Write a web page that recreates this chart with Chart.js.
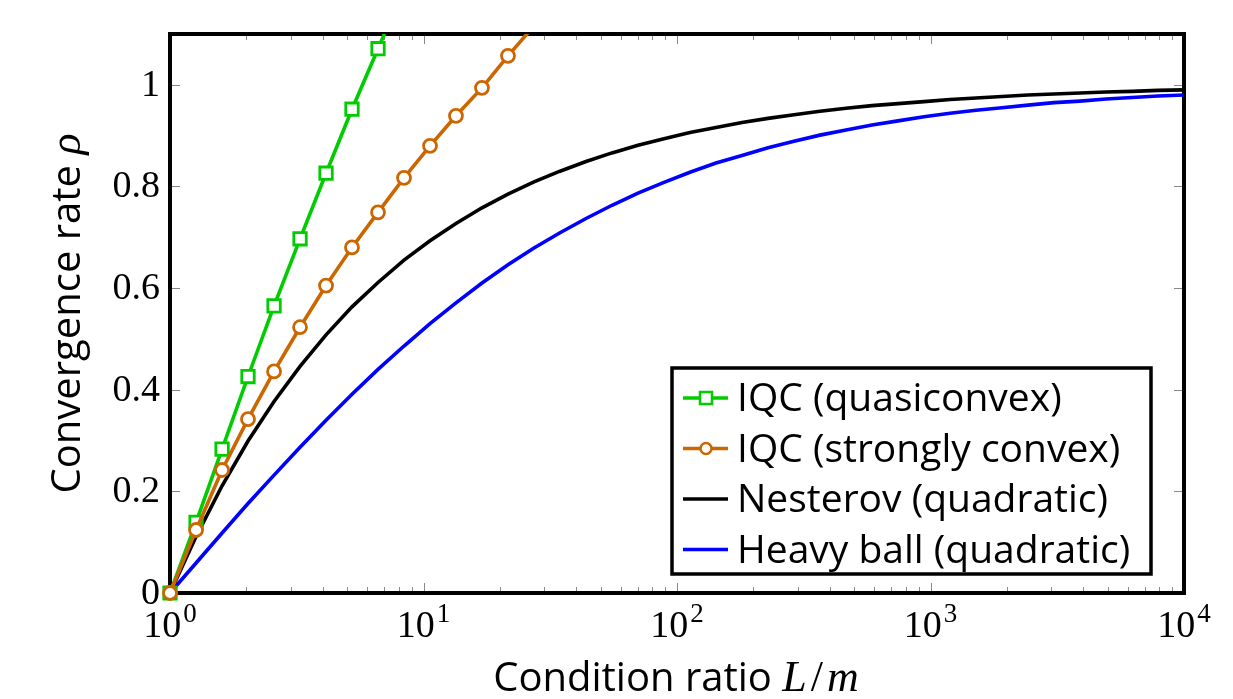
<!DOCTYPE html>
<html>
<head>
<meta charset="utf-8">
<script src="https://cdn.jsdelivr.net/npm/chart.js@4.4.0/dist/chart.umd.min.js"></script>
<style>
  html, body { margin: 0; padding: 0; background: #fff; }
  #wrap { width: 1233px; height: 699px; }
</style>
</head>
<body>
<div id="wrap"><canvas id="rate-chart"></canvas></div>
<script>
// condition ratio L/m samples (log spaced)
const conditionRatio = [
  1, 1.267, 1.605, 2.031, 2.573, 3.258, 4.126, 5.223, 6.616, 8.377,
  10.61, 13.43, 17.01, 21.54, 27.28, 34.55, 43.76, 55.41, 70.17, 88.86,
  112.5, 142.5, 180.5, 228.6, 289.4, 366.5, 464.2, 587.8, 744.4, 942.7,
  1194, 1512, 1915, 2424, 3070, 3888, 4924, 6236, 7897, 10000
];

const quasiconvexRate = [0, 0.139, 0.283, 0.426, 0.565, 0.697, 0.826, 0.952, 1.071, 1.19];
const stronglyConvexRate = [0, 0.124, 0.242, 0.342, 0.436, 0.523, 0.605, 0.680, 0.749, 0.817,
  0.880, 0.939, 0.994, 1.057, 1.116];
const nesterovRate = [
  0, 0.111, 0.211, 0.299, 0.377, 0.446, 0.508, 0.563, 0.611, 0.655,
  0.693, 0.727, 0.758, 0.785, 0.809, 0.830, 0.849, 0.866, 0.881, 0.894,
  0.906, 0.916, 0.926, 0.934, 0.941, 0.948, 0.954, 0.959, 0.963, 0.967,
  0.971, 0.974, 0.977, 0.980, 0.982, 0.984, 0.986, 0.987, 0.989, 0.990
];
const heavyBallRate = [
  0, 0.059, 0.118, 0.176, 0.232, 0.287, 0.340, 0.391, 0.440, 0.486,
  0.530, 0.571, 0.610, 0.646, 0.679, 0.709, 0.737, 0.763, 0.787, 0.808,
  0.828, 0.846, 0.861, 0.876, 0.889, 0.901, 0.911, 0.921, 0.929, 0.937,
  0.944, 0.950, 0.955, 0.960, 0.965, 0.968, 0.972, 0.975, 0.978, 0.980
];

const seriesLabels = ['IQC (quasiconvex)', 'IQC (strongly convex)', 'Nesterov (quadratic)', 'Heavy ball (quadratic)'];
const yTickValues = [0, 0.2, 0.4, 0.6, 0.8, 1];
const yTickLabels = ['0', '0.2', '0.4', '0.6', '0.8', '1'];
const xTickValues = [1, 10, 100, 1000, 10000];
const xTickExponents = ['0', '1', '2', '3', '4'];

const GREEN = 'rgb(0,204,0)';
const ORANGE = 'rgb(204,102,0)';
const SANS = '"Open Sans", sans-serif';
const SERIF = '"Liberation Serif", serif';

const toPoints = (vals) => vals.map((v, i) => ({ x: conditionRatio[i], y: v }));

// tick marks (inside, all four sides) + the black frame
const framePlugin = {
  id: 'frame',
  beforeDatasetsDraw(chart) {
    const { ctx, chartArea: a, scales: { x, y } } = chart;
    ctx.save();
    ctx.strokeStyle = '#888';
    ctx.lineWidth = 1;
    const seg = (x1, y1, x2, y2) => { ctx.beginPath(); ctx.moveTo(x1, y1); ctx.lineTo(x2, y2); ctx.stroke(); };
    yTickValues.forEach(v => {
      const py = Math.round(y.getPixelForValue(v)) + 0.5;
      seg(a.left, py, a.left + 10, py);
      seg(a.right - 10, py, a.right, py);
    });
    for (let d = 1; d < 10000; d *= 10) {
      for (let m = 1; m < 10; m++) {
        const len = m === 1 ? 10 : 6;
        const px = Math.round(x.getPixelForValue(m * d)) + 0.5;
        seg(px, a.bottom, px, a.bottom - len);
        seg(px, a.top, px, a.top + len);
      }
    }
    ctx.strokeStyle = '#000';
    ctx.lineWidth = 4;
    ctx.strokeRect(a.left, a.top, a.right - a.left, a.bottom - a.top);
    ctx.restore();
  },
  afterDraw(chart) {
    const { ctx, chartArea: a, scales: { x, y } } = chart;
    ctx.save();
    ctx.fillStyle = '#000';

    // y tick labels
    ctx.font = '38px ' + SERIF;
    ctx.textAlign = 'right';
    ctx.textBaseline = 'middle';
    yTickValues.forEach((v, i) => ctx.fillText(yTickLabels[i], a.left - 10, y.getPixelForValue(v) + 1));

    // x tick labels 10^k
    ctx.textAlign = 'left';
    ctx.textBaseline = 'alphabetic';
    xTickValues.forEach((v, i) => {
      ctx.font = '38px ' + SERIF;
      const wb = ctx.measureText('10').width;
      ctx.font = '27px ' + SERIF;
      const we = ctx.measureText(xTickExponents[i]).width;
      const x0 = x.getPixelForValue(v) - (wb + we + 2) / 2;
      ctx.font = '38px ' + SERIF;
      ctx.fillText('10', x0, 637);
      ctx.font = '27px ' + SERIF;
      ctx.fillText(xTickExponents[i], x0 + wb + 2, 622);
    });

    // x axis title
    ctx.font = '40px ' + SANS;
    const t1 = 'Condition ratio ';
    const w1 = ctx.measureText(t1).width;
    ctx.font = 'italic 44px ' + SERIF;
    const wl = ctx.measureText('L').width;
    const wm = ctx.measureText('m').width;
    ctx.font = '44px ' + SERIF;
    const ws = ctx.measureText('/').width;
    const total = w1 + wl + ws + wm + 10;
    let cx = (a.left + a.right) / 2 - total / 2;
    ctx.font = '40px ' + SANS;
    ctx.fillText(t1, cx, 691);
    cx += w1;
    ctx.font = 'italic 44px ' + SERIF;
    ctx.fillText('L', cx, 691);
    cx += wl + 4;
    ctx.font = '44px ' + SERIF;
    ctx.fillText('/', cx, 691);
    cx += ws + 4;
    ctx.font = 'italic 44px ' + SERIF;
    ctx.fillText('m', cx, 691);

    // y axis title (rotated)
    ctx.save();
    ctx.translate(80, (a.top + a.bottom) / 2);
    ctx.rotate(-Math.PI / 2);
    ctx.font = '40px ' + SANS;
    const t2 = 'Convergence rate ';
    const w2 = ctx.measureText(t2).width;
    ctx.font = 'italic 44px ' + SERIF;
    const wr = ctx.measureText('\u03c1').width;
    const x2 = -(w2 + wr) / 2;
    ctx.font = '40px ' + SANS;
    ctx.fillText(t2, x2, 0);
    ctx.font = 'italic 44px ' + SERIF;
    ctx.fillText('\u03c1', x2 + w2, 0);
    ctx.restore();

    // legend box
    const box = { left: 672, top: 368, right: 1151, bottom: 574 };
    ctx.fillStyle = '#fff';
    ctx.fillRect(box.left, box.top, box.right - box.left, box.bottom - box.top);
    ctx.strokeStyle = '#000';
    ctx.lineWidth = 3.5;
    ctx.strokeRect(box.left, box.top, box.right - box.left, box.bottom - box.top);
    chart.data.datasets.forEach((ds, i) => {
      const ry = 398 + i * 50.5;
      ctx.strokeStyle = ds.borderColor;
      ctx.lineWidth = ds.borderWidth;
      ctx.beginPath();
      ctx.moveTo(683, ry);
      ctx.lineTo(728, ry);
      ctx.stroke();
      if (ds.pointRadius > 0) {
        ctx.fillStyle = '#fff';
        ctx.lineWidth = 2.5;
        ctx.beginPath();
        if (ds.pointStyle === 'rect') ctx.rect(700, ry - 6, 12, 12);
        else ctx.arc(706, ry, 5.5, 0, Math.PI * 2);
        ctx.fill();
        ctx.stroke();
      }
      ctx.fillStyle = '#000';
      ctx.font = '39px ' + SANS;
      ctx.textBaseline = 'middle';
      ctx.fillText(ds.label, 737, ry + 2);
    });
    ctx.restore();
  }
};

const canvas = document.getElementById('rate-chart');
const chart = new Chart(canvas.getContext('2d'), {
  type: 'line',
  data: {
    datasets: [
      {
        label: seriesLabels[0],
        data: toPoints(quasiconvexRate),
        borderColor: GREEN,
        backgroundColor: '#fff',
        borderWidth: 3.6,
        pointStyle: 'rect',
        pointRadius: 8.8,
        pointBorderWidth: 2.8,
        pointBackgroundColor: '#fff',
        order: 1,
        clip: { left: 12, bottom: 12, top: 0, right: 0 }
      },
      {
        label: seriesLabels[1],
        data: toPoints(stronglyConvexRate),
        borderColor: ORANGE,
        backgroundColor: '#fff',
        borderWidth: 3.6,
        pointStyle: 'circle',
        pointRadius: 6.5,
        pointBorderWidth: 2.8,
        pointBackgroundColor: '#fff',
        order: 0,
        clip: { left: 12, bottom: 12, top: 0, right: 0 }
      },
      {
        label: seriesLabels[2],
        data: toPoints(nesterovRate),
        borderColor: '#000',
        borderWidth: 3.6,
        pointRadius: 0,
        order: 2
      },
      {
        label: seriesLabels[3],
        data: toPoints(heavyBallRate),
        borderColor: 'rgb(0,0,255)',
        borderWidth: 3.6,
        pointRadius: 0,
        order: 3
      }
    ]
  },
  options: {
    responsive: true,
    maintainAspectRatio: false,
    animation: false,
    layout: { padding: { left: 170, top: 34, right: 49, bottom: 106 } },
    plugins: { legend: { display: false }, tooltip: { enabled: false } },
    elements: { line: { tension: 0 } },
    scales: {
      x: { type: 'logarithmic', min: 1, max: 10000, display: false },
      y: { type: 'linear', min: 0, max: 1.1, display: false }
    }
  },
  plugins: [framePlugin]
});
</script>
</body>
</html>
